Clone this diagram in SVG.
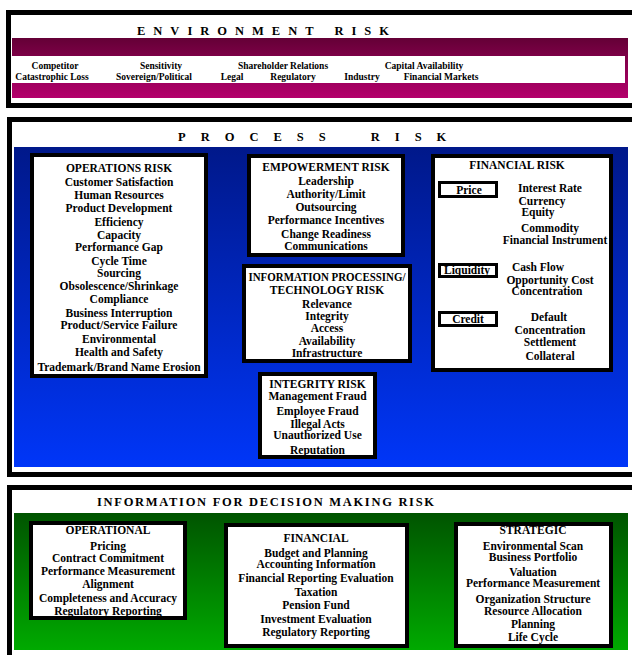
<svg xmlns="http://www.w3.org/2000/svg" width="632" height="655" viewBox="0 0 632 655">
<defs>
<linearGradient id="gEnv" x1="0" y1="0" x2="0" y2="1">
<stop offset="0" stop-color="#640036"/>
<stop offset="1" stop-color="#B4006C"/>
</linearGradient>
<linearGradient id="gBlue" x1="0" y1="0" x2="0" y2="1">
<stop offset="0" stop-color="#00188A"/>
<stop offset="1" stop-color="#0036F8"/>
</linearGradient>
<linearGradient id="gGreen" x1="0" y1="0" x2="0" y2="1">
<stop offset="0" stop-color="#005400"/>
<stop offset="1" stop-color="#00AA00"/>
</linearGradient>
</defs>
<style>
text{font-family:"Liberation Serif","Times New Roman",serif;font-weight:bold;fill:#000;}
.i{font-size:11.5px;text-anchor:middle;}
.e{font-size:9.5px;text-anchor:middle;}
.h{font-size:12.5px;}
.frame{fill:#fff;stroke:#000;stroke-width:5;}
.box{fill:#fff;stroke:#000;stroke-width:4;}
.sub{fill:#fff;stroke:#000;stroke-width:3;}
</style>
<rect width="632" height="655" fill="#fff"/>

<g id="environment-risk">
<rect class="frame" x="8.5" y="12.5" width="640" height="93"/>
<text class="h" x="137" y="35" letter-spacing="8" word-spacing="2">ENVIRONMENT RISK</text>
<rect x="12" y="38" width="616" height="60" fill="url(#gEnv)"/>
<rect x="12" y="56" width="613" height="27" fill="#fff"/>
<text class="e" x="55" y="69">Competitor</text>
<text class="e" x="52" y="80">Catastrophic Loss</text>
<text class="e" x="161" y="69">Sensitivity</text>
<text class="e" x="154" y="80">Sovereign/Political</text>
<text class="e" x="283" y="69">Shareholder Relations</text>
<text class="e" x="232" y="80">Legal</text>
<text class="e" x="293" y="80">Regulatory</text>
<text class="e" x="424" y="69">Capital Availability</text>
<text class="e" x="362" y="80">Industry</text>
<text class="e" x="441" y="80">Financial Markets</text>
</g>

<g id="process-risk">
<rect class="frame" x="9.5" y="119.5" width="640" height="355"/>
<text class="h" x="178" y="141" letter-spacing="15" word-spacing="12">PROCESS RISK</text>
<rect x="14" y="147" width="614" height="320" fill="url(#gBlue)"/>
</g>

<g id="operations-risk">
<rect class="box" x="32" y="155" width="174" height="221"/>
<text class="i" x="119" y="172">OPERATIONS RISK</text>
<text class="i" x="119" y="186">Customer Satisfaction</text>
<text class="i" x="119" y="199">Human Resources</text>
<text class="i" x="119" y="212">Product Development</text>
<text class="i" x="119" y="226">Efficiency</text>
<text class="i" x="119" y="239">Capacity</text>
<text class="i" x="119" y="251">Performance Gap</text>
<text class="i" x="119" y="265">Cycle Time</text>
<text class="i" x="119" y="277">Sourcing</text>
<text class="i" x="119" y="290">Obsolescence/Shrinkage</text>
<text class="i" x="119" y="303">Compliance</text>
<text class="i" x="119" y="317">Business Interruption</text>
<text class="i" x="119" y="329">Product/Service Failure</text>
<text class="i" x="119" y="343">Environmental</text>
<text class="i" x="119" y="356">Health and Safety</text>
<text class="i" x="119" y="371">Trademark/Brand Name Erosion</text>
</g>

<g id="empowerment-risk">
<rect class="box" x="249" y="156" width="154" height="99"/>
<text class="i" x="326" y="171">EMPOWERMENT RISK</text>
<text class="i" x="326" y="185">Leadership</text>
<text class="i" x="326" y="198">Authority/Limit</text>
<text class="i" x="326" y="211">Outsourcing</text>
<text class="i" x="326" y="224">Performance Incentives</text>
<text class="i" x="326" y="238">Change Readiness</text>
<text class="i" x="326" y="250">Communications</text>
</g>

<g id="information-processing-risk">
<rect class="box" x="244" y="266" width="166" height="95"/>
<text class="i" x="327" y="281" textLength="157" lengthAdjust="spacingAndGlyphs">INFORMATION PROCESSING/</text>
<text class="i" x="327" y="294">TECHNOLOGY RISK</text>
<text class="i" x="327" y="308">Relevance</text>
<text class="i" x="327" y="320">Integrity</text>
<text class="i" x="327" y="332">Access</text>
<text class="i" x="327" y="345">Availability</text>
<text class="i" x="327" y="357">Infrastructure</text>
</g>

<g id="integrity-risk">
<rect class="box" x="260" y="374" width="115" height="83"/>
<text class="i" x="317.5" y="388">INTEGRITY RISK</text>
<text class="i" x="317.5" y="400">Management Fraud</text>
<text class="i" x="317.5" y="415">Employee Fraud</text>
<text class="i" x="317.5" y="428">Illegal Acts</text>
<text class="i" x="317.5" y="439">Unauthorized Use</text>
<text class="i" x="317.5" y="454">Reputation</text>
</g>

<g id="financial-risk">
<rect class="box" x="433" y="156" width="178" height="214"/>
<text class="i" x="517" y="169">FINANCIAL RISK</text>
<rect class="sub" x="439.5" y="182.5" width="57" height="14"/>
<text class="i" x="469" y="194">Price</text>
<text class="i" x="550" y="192">Interest Rate</text>
<text class="i" x="542" y="205">Currency</text>
<text class="i" x="538" y="216">Equity</text>
<text class="i" x="550" y="232">Commodity</text>
<text class="i" x="555" y="244">Financial Instrument</text>
<rect class="sub" x="439.5" y="264.5" width="57" height="12"/>
<text class="i" x="467" y="274">Liquidity</text>
<text class="i" x="538" y="271">Cash Flow</text>
<text class="i" x="550" y="284">Opportunity Cost</text>
<text class="i" x="547" y="295">Concentration</text>
<rect class="sub" x="439.5" y="312.5" width="57" height="13"/>
<text class="i" x="468" y="323">Credit</text>
<text class="i" x="549" y="321">Default</text>
<text class="i" x="550" y="334">Concentration</text>
<text class="i" x="550" y="346">Settlement</text>
<text class="i" x="550" y="360">Collateral</text>
</g>

<g id="decision-making-risk">
<rect class="frame" x="9.5" y="487.5" width="640" height="180"/>
<text class="h" x="97" y="506" font-size="12" letter-spacing="1.7">INFORMATION FOR DECISION MAKING RISK</text>
<rect x="14" y="513" width="614" height="137" fill="url(#gGreen)"/>
</g>

<g id="operational">
<rect class="box" x="31" y="523" width="154" height="95"/>
<text class="i" x="108" y="534">OPERATIONAL</text>
<text class="i" x="108" y="550">Pricing</text>
<text class="i" x="108" y="562">Contract Commitment</text>
<text class="i" x="108" y="575">Performance Measurement</text>
<text class="i" x="108" y="588">Alignment</text>
<text class="i" x="108" y="602">Completeness and Accuracy</text>
<text class="i" x="108" y="615">Regulatory Reporting</text>
</g>

<g id="financial">
<rect class="box" x="226" y="525" width="181" height="121"/>
<text class="i" x="316" y="542">FINANCIAL</text>
<text class="i" x="316" y="557">Budget and Planning</text>
<text class="i" x="316" y="568">Accounting Information</text>
<text class="i" x="316" y="582">Financial Reporting Evaluation</text>
<text class="i" x="316" y="596">Taxation</text>
<text class="i" x="316" y="609">Pension Fund</text>
<text class="i" x="316" y="623">Investment Evaluation</text>
<text class="i" x="316" y="636">Regulatory Reporting</text>
</g>

<g id="strategic">
<rect class="box" x="456" y="524" width="155" height="122"/>
<text class="i" x="533" y="534">STRATEGIC</text>
<text class="i" x="533" y="550">Environmental Scan</text>
<text class="i" x="533" y="561">Business Portfolio</text>
<text class="i" x="533" y="576">Valuation</text>
<text class="i" x="533" y="587">Performance Measurement</text>
<text class="i" x="533" y="603">Organization Structure</text>
<text class="i" x="533" y="615">Resource Allocation</text>
<text class="i" x="533" y="628">Planning</text>
<text class="i" x="533" y="641">Life Cycle</text>
</g>

<g id="connectors"></g>
</svg>
